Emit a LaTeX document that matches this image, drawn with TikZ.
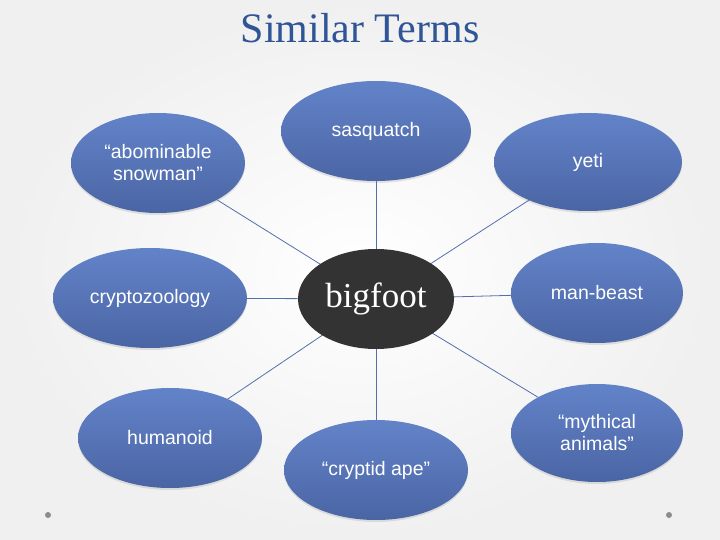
\documentclass[tikz,border=0pt]{standalone}
\usepackage{fontspec}
\setsansfont{Liberation Sans}
\newfontfamily\headfont{Liberation Serif}
\usetikzlibrary{shapes.geometric,shadows}

\pgfdeclarelayer{back}
\pgfdeclarelayer{background}
\pgfsetlayers{back,background,main}

\definecolor{termtop}{RGB}{99,131,201}
\definecolor{termbot}{RGB}{74,101,164}
\definecolor{termline}{RGB}{84,112,172}
\definecolor{titleblue}{RGB}{47,85,151}
\definecolor{hubdark}{RGB}{51,51,51}
\definecolor{dotgray}{RGB}{140,140,140}

\tikzset{
	term/.style={ellipse, inner sep=0pt, top color=termtop, bottom color=termbot,
		text=white, align=center, font=\sffamily\fontsize{19.5}{22}\selectfont,
		drop shadow={opacity=0.2, shadow xshift=0pt, shadow yshift=-2pt}},
	hub/.style={ellipse, inner sep=0pt, fill=hubdark, text=white,
		font=\headfont\fontsize{35}{40}\selectfont},
	link/.style={draw=termline, line width=0.8pt}
}

\begin{document}
\begin{tikzpicture}[x=1pt,y=-1pt]

	\useasboundingbox (0,0) rectangle (720,540);
	\begin{pgfonlayer}{back}
		\shade[inner color=white, outer color=gray!12] (0,0) rectangle (720,540);
	\end{pgfonlayer}

	\node[font=\headfont\fontsize{42}{48}\selectfont, text=titleblue, anchor=base] (title) at (360,43) {Similar Terms};

	\node[hub, minimum width=156pt, minimum height=100pt] (big) at (376,299) {bigfoot};

	\node[term, minimum width=190pt, minimum height=100pt] (n1) at (376,131) {sasquatch};
	\node[term, minimum width=188pt, minimum height=98pt] (n2) at (588,162) {yeti};
	\node[term, minimum width=172pt, minimum height=100pt] (n3) at (597,293) {man-beast};
	\node[term, minimum width=172pt, minimum height=98pt] (n4) at (597,433) {“mythical\\animals”};
	\node[term, minimum width=184pt, minimum height=100pt] (n5) at (376,470) {“cryptid ape”};
	\node[term, minimum width=184pt, minimum height=100pt] (n6) at (170,438) {humanoid};
	\node[term, minimum width=194pt, minimum height=100pt] (n7) at (150,298) {cryptozoology};
	\node[term, minimum width=174pt, minimum height=100pt] (n8) at (158,163) {“abominable\\snowman”};

	\begin{pgfonlayer}{background}
	\foreach \i in {1,...,8}
	{
		\path (big.center) edge[link] (n\i.center);
	};
	\end{pgfonlayer}

	\fill[dotgray] (48,515) circle [radius=3pt];
	\fill[dotgray] (669,515) circle [radius=3pt];
	\end{tikzpicture}
\end{document}
